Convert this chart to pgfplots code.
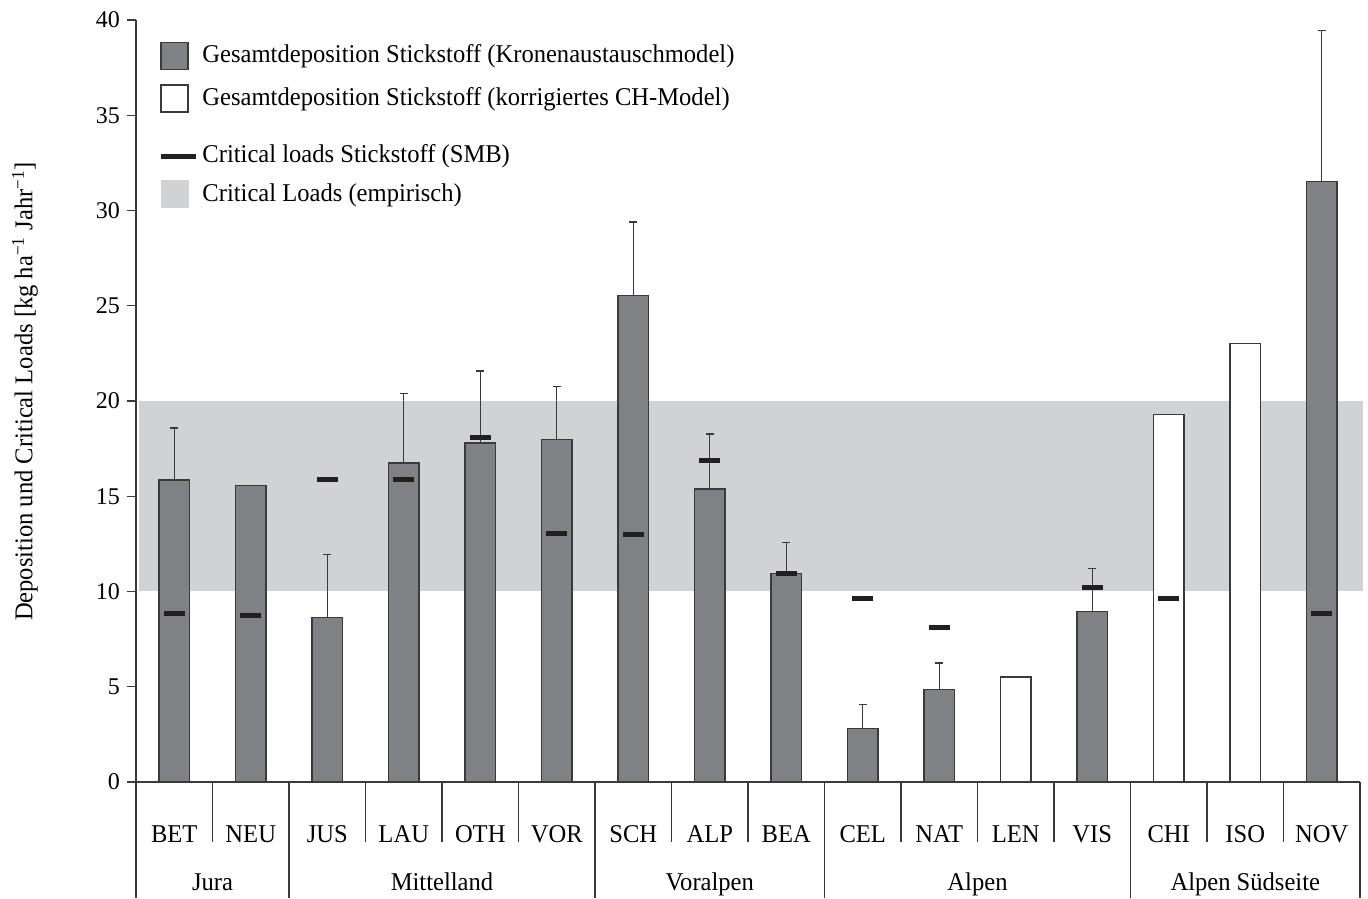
\documentclass[border=0pt]{standalone}
\usepackage{fontspec}
\setmainfont{Liberation Serif}
\newfontfamily\lblfam{Liberation Serif}[FakeStretch=0.96]
\usepackage{pgfplots}
\pgfplotsset{compat=1.18}

\definecolor{bargray}{HTML}{808185}
\definecolor{bandgray}{HTML}{D1D2D4}
\definecolor{edge}{HTML}{3A3A3C}
\definecolor{clmark}{HTML}{231F20}

\newcommand{\lblfont}{\lblfam\fontsize{12.8}{15}\selectfont}
\newcommand{\tickfont}{\fontsize{12}{14}\selectfont}

\begin{document}
\begin{tikzpicture}
\begin{axis}[
  scale only axis, width=612pt, height=381pt,
  xmin=-0.5, xmax=15.5, ymin=0, ymax=40,
  clip=false,
  axis x line=bottom, axis y line=left,
  axis line style={-, draw=edge, line width=0.6pt},
  ytick={0,5,...,40},
  tick align=outside, major tick length=4.5pt,
  y tick style={draw=edge, line width=0.6pt},
  xtick={0,...,15},
  xticklabels={BET,NEU,JUS,LAU,OTH,VOR,SCH,ALP,BEA,CEL,NAT,LEN,VIS,CHI,ISO,NOV},
  x tick style={draw=none},
  xticklabel style={anchor=base, yshift=-25.8pt, font=\lblfont},
  yticklabel style={font=\tickfont},
  /pgf/number format/assume math mode=true,
  ylabel={Deposition und Critical Loads [kg ha\textsuperscript{−1} Jahr\textsuperscript{−1}]},
  ylabel style={font=\lblfont, at={(rel axis cs:-0.0907,0.5125)}, anchor=center},
  legend style={draw=none, fill=none, at={(rel axis cs:0,1)}, anchor=north west,
    xshift=11.35pt, yshift=-10.85pt, inner sep=0pt, outer sep=0pt,
    row sep=7.15pt, column sep=1.9pt,
    nodes={inner sep=0pt, anchor=base west}, font=\lblfont},
]

% legend entries
\addlegendimage{legend image code/.code={\draw[fill=bargray,draw=edge,line width=0.7pt] (0pt,-3.3pt) rectangle (13.5pt,10.2pt);}}
\addlegendentry{\rule[-3.5pt]{0pt}{13.5pt}Gesamtdeposition Stickstoff (Kronenaustauschmodel)}
\addlegendimage{legend image code/.code={\draw[fill=white,draw=edge,line width=0.7pt] (0pt,-3.3pt) rectangle (13.5pt,10.2pt);}}
\addlegendentry{\rule[-3.5pt]{0pt}{13.5pt}Gesamtdeposition Stickstoff (korrigiertes CH-Model)}
\addlegendimage{legend image code/.code={\draw[draw=clmark,line width=2.5pt] (0pt,3pt) -- (17.5pt,3pt);}}
\addlegendentry{\rule[-3.5pt]{0pt}{21.35pt}Critical loads Stickstoff (SMB)}
\addlegendimage{legend image code/.code={\fill[bandgray] (0pt,-3pt) rectangle (13.5pt,10.6pt);}}
\addlegendentry{\rule[-3.5pt]{0pt}{14.35pt}Critical Loads (empirisch)}

% empirical critical load range 10-20
\addplot[fill=bandgray, draw=none, forget plot]
  coordinates {(-0.46,10) (15.54,10) (15.54,20) (-0.46,20)} -- cycle;

% total deposition, canopy exchange model (with upper error)
\addplot[ybar, bar width=0.4, bar shift=0pt, fill=bargray, draw=edge, line width=0.7pt, forget plot,
  error bars/.cd, y dir=plus, y explicit,
  error bar style={draw=edge, line width=0.7pt},
  error mark options={rotate=90, draw=edge, line width=0.7pt, mark size=2pt}]
  coordinates {
    (0,15.85) +- (0,2.74)
    (1,15.55) +- (0,0)
    (2,8.63)  +- (0,3.32)
    (3,16.74) +- (0,3.65)
    (4,17.80) +- (0,3.78)
    (5,17.98) +- (0,2.79)
    (6,25.54) +- (0,3.86)
    (7,15.38) +- (0,2.88)
    (8,10.95) +- (0,1.61)
    (9,2.80)  +- (0,1.27)
    (10,4.84) +- (0,1.40)
    (12,8.96) +- (0,2.24)
    (15,31.52) +- (0,7.93)
  };

% total deposition, corrected CH model
\addplot[ybar, bar width=0.4, bar shift=0pt, fill=white, draw=edge, line width=0.7pt, forget plot]
  coordinates {(11,5.52) (13,19.29) (14,23.01)};

% critical loads (SMB)
\addplot[only marks, mark=-, mark size=5.25pt, forget plot,
  mark options={draw=clmark, line width=2.5pt}]
  coordinates {
    (0,8.83) (1,8.72) (2,15.90) (3,15.90) (4,18.10) (5,13.02) (6,13.00)
    (7,16.90) (8,10.92) (9,9.61) (10,8.09) (12,10.19) (13,9.61) (15,8.83)
  };

% category separators
\pgfplotsinvokeforeach{0.5,2.5,3.5,4.5,6.5,7.5,9.5,10.5,11.5,13.5,14.5}{
  \draw[edge, line width=0.6pt] (axis cs:#1,0) -- ++(0pt,-30pt);
}
% region separators
\pgfplotsinvokeforeach{-0.5,1.5,5.5,8.5,12.5,15.5}{
  \draw[edge, line width=0.6pt] (axis cs:#1,0) -- ++(0pt,-58pt);
}
% region names
\node[anchor=base, font=\lblfont] at ([yshift=-54pt]axis cs:0.5,0) {Jura};
\node[anchor=base, font=\lblfont] at ([yshift=-54pt]axis cs:3.5,0) {Mittelland};
\node[anchor=base, font=\lblfont] at ([yshift=-54pt]axis cs:7,0) {Voralpen};
\node[anchor=base, font=\lblfont] at ([yshift=-54pt]axis cs:10.5,0) {Alpen};
\node[anchor=base, font=\lblfont] at ([yshift=-54pt]axis cs:14,0) {Alpen Südseite};

\coordinate (O) at (rel axis cs:0,0);
\coordinate (T) at (rel axis cs:1,1);
\end{axis}
\pgfresetboundingbox
\path ([xshift=-68pt,yshift=-58pt]O) rectangle ([xshift=4pt,yshift=10pt]T);
\end{tikzpicture}
\end{document}
